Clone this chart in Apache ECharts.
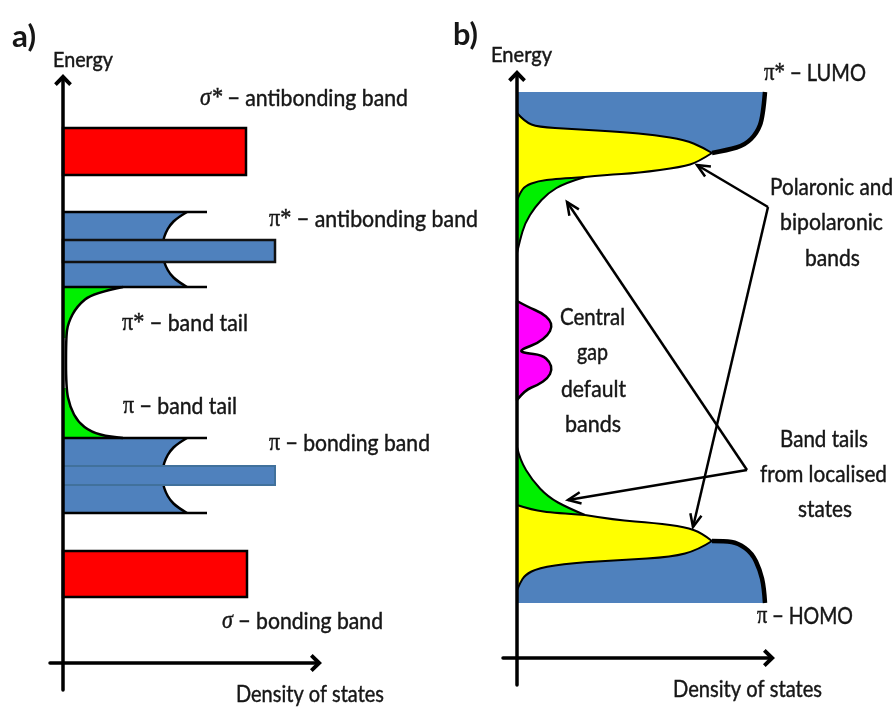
<!DOCTYPE html>
<html>
<head>
<meta charset="utf-8">
<title>Density of states of a conjugated polymer</title>
<script src="https://cdn.jsdelivr.net/npm/echarts@6/dist/echarts.min.js"></script>
<style>
  html, body { margin: 0; padding: 0; background: #fff; }
  #chart { width: 895px; height: 707px; }
</style>
</head>
<body>
<div id="chart"></div>
<script>
// Every shape is a list of [density of states, energy] pairs (arbitrary units).

// ---------- a) ideal chain: discrete bands ----------
const sigmaStarBand = [0, 183, 488, 535];   // [DOS from, DOS to, E low, E high]
const sigmaBand     = [0, 184, 66, 112];
const piStarLevel   = [0, 212, 401, 423];
const piLevel       = [0, 212, 178, 197];
const piStarEdges   = [376, 451];           // [E low, E high]
const piEdges       = [150, 225];
const bandWingDos   = 144;
// concave inner edge of the π* and π bands, top to bottom
const piStarNotch = [[124,451],[114,445],[107,438],[102.5,430],[100,422],[99,413.5],[100,405],[102.5,397],[107,389],[114,382],[124,376]];
const piNotch     = [[124,225],[114,219],[107,212],[102.5,204],[100,196],[99.5,187.5],[100,179],[102.5,171],[107,163],[114,156],[124,150]];
// band tails reaching into the gap, top to bottom
const gapTailA = [[60,376],[30,370],[14,357],[5,340],[3,325],[3,275],[7,256],[15,241],[28,231],[47,226],[60,225]];

// ---------- b) disordered polymer: continuous DOS ----------
const lumoTop = 566;
const homoBottom = 55;
const lumoEdge           = [[248,566],[246,541],[240,525],[228,513],[211,508],[195,505]];
const polaronUpperTop    = [[0,545],[8,536],[21,531],[55,529],[105,526],[138,523],[168,518],[185,511],[195,505]];
const polaronUpperBottom = [[195,505],[181,496],[165,491],[121,485],[88,483],[68,481]];
const tailUpperInner     = [[68,481],[38,479],[21,477],[8,472],[3,465],[0,458]];
const tailUpper          = [[68,481],[48,475],[31,465],[18,451],[8,435],[3,418],[0,405]];
const gapStates = [[0,357],[11,351],[25,345],[33,338],[35,331],[31,323],[21,315],[8,310],[3,307],[8,305],[25,303],[33,296],[35,288],[31,280],[21,273],[8,268],[0,258]];
const tailLower          = [[0,211],[3,198],[15,178],[31,161],[51,150],[68,143]];
const tailLowerInner     = [[0,153],[15,148],[38,145],[68,143]];
const polaronLowerTop    = [[68,143],[98,138],[138,135],[168,131],[185,125],[195,117]];
const polaronLowerBottom = [[195,117],[181,108],[155,101],[105,98],[55,95],[21,90],[8,83],[3,75],[0,68]];
const homoEdge           = [[195,117],[208,117],[221,115],[235,105],[243,88],[247,71],[248,55]];
// annotation arrows: [from, to]
const polaronArrows = [[[251,451],[180,493]], [[251,451],[176,131]]];
const tailArrows    = [[[230,188],[50,456]], [[230,188],[51,158]]];

// ---------- texts ----------
const panelTags  = ['a)', 'b)'];
const axisNames  = ['Energy', 'Density of states'];
const bandNamesA = ['σ* − antibonding band', 'π* − antibonding band', 'π* − band tail', 'π − band tail', 'π − bonding band', 'σ − bonding band'];
const bandNamesB = ['π* − LUMO', 'Polaronic and', 'bipolaronic', 'bands', 'Central', 'gap', 'default', 'bands', 'Band tails', 'from localised', 'states', 'π − HOMO'];

// ---------- drawing helpers ----------
const INK = '#161616';
const BLUE = '#4f81bd';
const RED = '#ff0000';
const GREEN = '#00f000';
const YELLOW = '#ffff00';
const MAGENTA = '#ff00ff';

// joins point lists into one path; lists of 3+ points are drawn as smooth curves
function pathFromSegments(api, segments, close) {
  let d = '';
  segments.forEach(function (seg, si) {
    const p = seg.map(function (pt) { return api.coord(pt); });
    d += (si === 0 ? 'M' : 'L') + p[0][0] + ',' + p[0][1];
    if (p.length === 2) d += 'L' + p[1][0] + ',' + p[1][1];
    for (let i = 1; i < p.length - 1; i++) {
      const end = i === p.length - 2 ? p[i + 1]
        : [(p[i][0] + p[i + 1][0]) / 2, (p[i][1] + p[i + 1][1]) / 2];
      d += 'Q' + p[i][0] + ',' + p[i][1] + ',' + end[0] + ',' + end[1];
    }
  });
  return close ? d + 'Z' : d;
}

function shape(panel, segments, style, close) {
  return {
    type: 'custom', coordinateSystem: 'cartesian2d',
    xAxisIndex: panel, yAxisIndex: panel,
    silent: true, clip: false, data: [[0, 0]],
    renderItem: function (params, api) {
      return { type: 'path', shape: { pathData: pathFromSegments(api, segments, close) }, style: style };
    }
  };
}
const fillArea = function (panel, segments, color) {
  return shape(panel, segments, { fill: color, stroke: null }, true);
};
const strokeLine = function (panel, points, width) {
  return shape(panel, [points], { fill: 'none', stroke: '#000', lineWidth: width, lineJoin: 'round', lineCap: 'butt' }, false);
};
const box = function (panel, b, color, edge, width) {
  return shape(panel, [[[b[0], b[2]], [b[1], b[2]]], [[b[1], b[3]], [b[0], b[3]]]],
    { fill: color, stroke: edge, lineWidth: width, lineJoin: 'miter' }, true);
};
const rev = function (a) { return a.slice().reverse(); };

function arrowSeries(panel, arrows) {
  return {
    type: 'custom', coordinateSystem: 'cartesian2d',
    xAxisIndex: panel, yAxisIndex: panel,
    silent: true, clip: false, data: [[0, 0]],
    renderItem: function (params, api) {
      const children = [];
      arrows.forEach(function (ar) {
        const a = api.coord(ar[0]), b = api.coord(ar[1]);
        const ang = Math.atan2(b[1] - a[1], b[0] - a[0]);
        const L = 14, spread = 0.42;
        const h1 = [b[0] - L * Math.cos(ang - spread), b[1] - L * Math.sin(ang - spread)];
        const h2 = [b[0] - L * Math.cos(ang + spread), b[1] - L * Math.sin(ang + spread)];
        children.push({ type: 'line', shape: { x1: a[0], y1: a[1], x2: b[0], y2: b[1] },
          style: { stroke: '#000', lineWidth: 2.5 } });
        children.push({ type: 'polyline', shape: { points: [h1, b, h2] },
          style: { stroke: '#000', lineWidth: 2.5, fill: null, lineJoin: 'miter' } });
      });
      return { type: 'group', children: children };
    }
  };
}

const chevron = 'path://M10,0L20,10.5L17,13.5L10,6.5L3,13.5L0,10.5Z';
function axis(gridIndex, min, max) {
  return {
    type: 'value', gridIndex: gridIndex, min: min, max: max, z: 10,
    axisLine: { show: true, onZero: true, symbol: ['none', chevron], symbolSize: [18, 12],
      lineStyle: { color: '#000', width: 3.5 } },
    axisTick: { show: false }, axisLabel: { show: false }, splitLine: { show: false }
  };
}

// ---------- text layout ----------
const measureCtx = document.createElement('canvas').getContext('2d');
function textWidth(str, font) { measureCtx.font = font; return measureCtx.measureText(str).width; }

function label(text, left, baseline, width, size, bold) {
  const m = /^([πσ]\*?)(.*)$/.exec(text);
  const head = m ? m[1] : '';
  const rest = m ? m[2] : text;
  const sans = (bold ? 'bold ' : '') + size + 'px Lato';
  const serif = (head.charAt(0) === 'σ' ? 'italic ' : '') + Math.round(size * 1.05) + 'px "Liberation Serif"';
  const wHead = head ? textWidth(head, serif) : 0;
  const wRest = textWidth(rest, sans);
  const s = width / (wHead + wRest);
  const y = baseline - 0.37 * size;
  const out = [];
  const base = { fill: INK, stroke: INK, lineWidth: bold ? 0 : 0.45,
    textAlign: 'left', align: 'left', textVerticalAlign: 'middle', verticalAlign: 'middle' };
  if (head) out.push({ type: 'text', x: left, y: y, scaleX: s, silent: true,
    style: Object.assign({ text: head, font: serif }, base) });
  out.push({ type: 'text', x: left + wHead * s, y: y, scaleX: s, silent: true,
    style: Object.assign({ text: rest, font: sans }, base) });
  return out;
}

const textLayout = [
  // [text, left, baseline, width, font size, bold]
  [panelTags[0], 12, 48, 24, 30, true],
  [axisNames[0], 53, 68, 60, 21],
  [bandNamesA[0], 200, 107, 208, 24],
  [bandNamesA[1], 269, 228, 209, 24],
  [bandNamesA[2], 122, 332, 126, 24],
  [bandNamesA[3], 123, 415, 114, 24],
  [bandNamesA[4], 269, 452, 161, 24],
  [bandNamesA[5], 222, 630, 161, 24],
  [axisNames[1], 236, 703, 148, 24],
  [panelTags[1], 453, 46, 25, 30, true],
  [axisNames[0], 491, 63, 61, 21],
  [bandNamesB[0], 764, 82, 102, 24],
  [bandNamesB[1], 770, 196, 123, 24],
  [bandNamesB[2], 780, 231, 103, 24],
  [bandNamesB[3], 805, 267, 55, 24],
  [bandNamesB[4], 560, 326, 65, 24],
  [bandNamesB[5], 577, 361, 31, 24],
  [bandNamesB[6], 561, 398, 65, 24],
  [bandNamesB[7], 565, 433, 56, 24],
  [bandNamesB[8], 780, 448, 88, 24],
  [bandNamesB[9], 760, 483, 127, 24],
  [bandNamesB[10], 798, 518, 54, 24],
  [bandNamesB[11], 757, 625, 96, 24],
  [axisNames[1], 673, 698, 149, 24]
];
let textElements = [];
textLayout.forEach(function (t) { textElements = textElements.concat(label(t[0], t[1], t[2], t[3], t[4], t[5])); });

// ---------- series ----------
const A = 0, B = 1;
const series = [
  // a) σ bands
  box(A, sigmaStarBand, RED, '#000', 2.5),
  box(A, sigmaBand, RED, '#000', 2.5),
  // a) π* and π bands with their tails
  fillArea(A, [[[0, piStarEdges[1]]], piStarNotch, [[0, piStarEdges[0]]]], BLUE),
  fillArea(A, [[[0, piEdges[1]]], piNotch, [[0, piEdges[0]]]], BLUE),
  fillArea(A, [gapTailA.slice(0, 5), [[0, 325], [0, piStarEdges[0]]]], GREEN),
  fillArea(A, [gapTailA.slice(5), [[0, piEdges[1]], [0, 275]]], GREEN),
  strokeLine(A, [[0, piStarEdges[1]], [bandWingDos, piStarEdges[1]]], 2.5),
  strokeLine(A, [[0, piStarEdges[0]], [bandWingDos, piStarEdges[0]]], 2.5),
  strokeLine(A, [[0, piEdges[1]], [bandWingDos, piEdges[1]]], 2.5),
  strokeLine(A, [[0, piEdges[0]], [bandWingDos, piEdges[0]]], 2.5),
  strokeLine(A, piStarNotch, 2.5),
  strokeLine(A, piNotch, 2.5),
  strokeLine(A, gapTailA, 2.5),
  box(A, piStarLevel, BLUE, '#111', 2.5),
  box(A, piLevel, BLUE, '#41719c', 2),

  // b) upper half: tail, polaronic band, LUMO
  fillArea(B, [tailUpper, rev(tailUpperInner)], GREEN),
  fillArea(B, [polaronUpperTop, polaronUpperBottom, tailUpperInner], YELLOW),
  fillArea(B, [[[0, lumoTop], lumoEdge[0]], lumoEdge, rev(polaronUpperTop)], BLUE),
  // b) gap states
  shape(B, [gapStates], { fill: MAGENTA, stroke: '#000', lineWidth: 2.5, lineJoin: 'round' }, true),
  // b) lower half: tail, polaronic band, HOMO
  fillArea(B, [tailLower, rev(tailLowerInner)], GREEN),
  fillArea(B, [tailLowerInner, polaronLowerTop, polaronLowerBottom], YELLOW),
  fillArea(B, [[[0, homoBottom], homoEdge[homoEdge.length - 1]], rev(homoEdge), polaronLowerBottom], BLUE),
  // b) outlines
  strokeLine(B, polaronUpperTop, 2),
  strokeLine(B, polaronUpperBottom, 2),
  strokeLine(B, tailUpperInner, 2),
  strokeLine(B, tailUpper, 2),
  strokeLine(B, tailLower, 2),
  strokeLine(B, tailLowerInner, 2),
  strokeLine(B, polaronLowerTop, 2),
  strokeLine(B, polaronLowerBottom, 2),
  strokeLine(B, lumoEdge, 4.5),
  strokeLine(B, homoEdge, 4.5),
  // b) annotations
  arrowSeries(B, polaronArrows),
  arrowSeries(B, tailArrows)
];

const chart = echarts.init(document.getElementById('chart'), null, { renderer: 'canvas' });
chart.setOption({
  backgroundColor: '#ffffff',
  animation: false,
  grid: [
    { left: 50, top: 80, width: 266, height: 610 },
    { left: 503, top: 76, width: 266, height: 609 }
  ],
  xAxis: [axis(0, -13, 253), axis(1, -14, 252)],
  yAxis: [axis(0, -27, 583), axis(1, -27, 582)],
  series: series,
  graphic: { elements: textElements }
});
</script>
</body>
</html>
